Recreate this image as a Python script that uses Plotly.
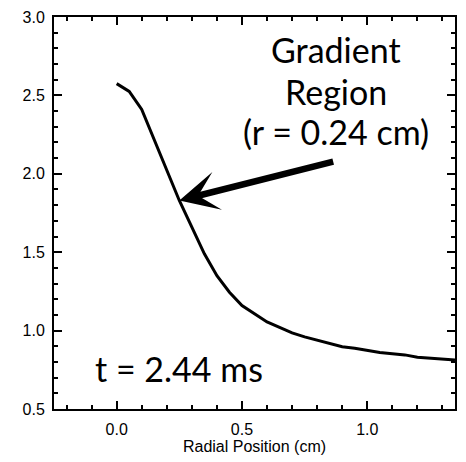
import plotly.graph_objects as go

radius_cm = [0.0, 0.05, 0.10, 0.15, 0.20, 0.25, 0.30, 0.35, 0.40, 0.45, 0.50, 0.55, 0.60,
             0.65, 0.70, 0.75, 0.80, 0.85, 0.90, 0.95, 1.00, 1.05, 1.10, 1.15, 1.20,
             1.25, 1.30, 1.35]
profile = [2.575, 2.525, 2.41, 2.22, 2.03, 1.83, 1.66, 1.49, 1.35, 1.245, 1.16, 1.105, 1.055,
           1.02, 0.985, 0.96, 0.938, 0.917, 0.897, 0.888, 0.873, 0.86, 0.852, 0.845, 0.83,
           0.825, 0.818, 0.812]

x_ticks = [0.0, 0.5, 1.0]
y_ticks = [0.5, 1.0, 1.5, 2.0, 2.5, 3.0]
x_title = "Radial Position (cm)"
label_lines = ["Gradient", "Region", "(r = 0.24 cm)"]
time_label = "t = 2.44 ms"
arrow_tip = (0.25, 1.83)
arrow_tail = (0.87, 2.08)

tick_font = dict(family="Liberation Sans Narrow, Arial Narrow, Liberation Sans, Arial", size=16, color="black")
big_font = dict(family="Lato, Noto Sans, sans-serif", size=34, color="black")

fig = go.Figure()
fig.add_trace(go.Scatter(x=radius_cm, y=profile, mode="lines",
                         line=dict(color="black", width=3), showlegend=False,
                         hoverinfo="skip"))

axis_common = dict(showline=True, linecolor="black", linewidth=2, mirror="allticks",
                   ticks="inside", ticklen=8, tickwidth=1.5, tickcolor="black",
                   showgrid=False, zeroline=False, tickfont=tick_font,
                   minor=dict(ticks="inside", ticklen=4, tickwidth=1.5, tickcolor="black",
                              dtick=0.1, showgrid=False))

fig.update_xaxes(range=[-0.25, 1.35], tickvals=x_ticks,
                 ticktext=[f"{v:.1f}" for v in x_ticks],
                 title=dict(text=x_title, font=tick_font, standoff=4),
                 ticklabelstandoff=5, **axis_common)
fig.update_yaxes(range=[0.5, 3.0], tickvals=y_ticks,
                 ticktext=[f"{v:.1f}" for v in y_ticks],
                 ticklabelstandoff=4, **axis_common)

fig.add_annotation(x=arrow_tip[0], y=arrow_tip[1], ax=arrow_tail[0], ay=arrow_tail[1],
                   xref="x", yref="y", axref="x", ayref="y", text="", showarrow=True,
                   arrowhead=3, arrowwidth=6.5, arrowsize=1.0, arrowcolor="black")

line_y = [2.794, 2.525, 2.269]
for txt, yy in zip(label_lines, line_y):
    fig.add_annotation(x=0.874, y=yy, xref="x", yref="y", text=txt, showarrow=False,
                       font=big_font, xanchor="center", yanchor="middle")

fig.add_annotation(x=-0.094, y=0.756, xref="x", yref="y", text=time_label, showarrow=False,
                   font=big_font, xanchor="left", yanchor="middle")

fig.update_layout(width=466, height=462, margin=dict(l=54, r=9, t=16, b=46),
                  plot_bgcolor="white", paper_bgcolor="white")

fig.write_html("out.html")
